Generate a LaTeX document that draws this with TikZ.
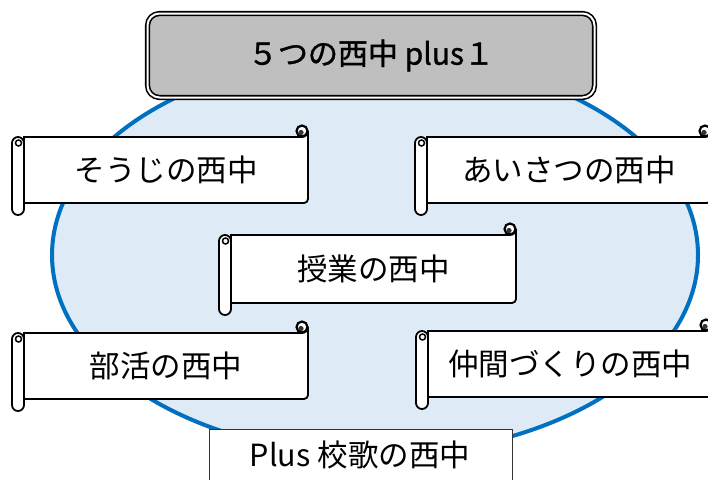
\documentclass[tikz,border=0pt]{standalone}
\usepackage{fontspec}
\newfontfamily\jpfont{Noto Sans CJK JP}
\definecolor{ovalline}{RGB}{0,112,192}
\definecolor{ovalfill}{RGB}{222,235,247}
\definecolor{titlegray}{RGB}{191,191,191}
\tikzset{
  scrollline/.style={draw=black, line width=1.8pt, fill=white},
  scrolltext/.style={font=\jpfont\fontsize{30.5}{33}\selectfont, inner sep=0pt},
}
% scroll banner: #1 name, #2 x0, #3 y0, #4 x1, #5 y1, #6 text
\newcommand\scrollbox[6]{%
  % body of the scroll with the curl at the top right
  \filldraw[scrollline] (#2+12,#3+12) -- (#4-6,#3+12)
    arc[start angle=90, end angle=0, radius=6] -- (#4,#5-16)
    arc[start angle=0, end angle=90, radius=4] -- (#2+12,#5-12) -- cycle;
  % curl at the top right
  \filldraw[scrollline, line width=2.2pt] (#4-6,#3+6) circle (5.5);
  \fill[black!80] (#4-7,#3+7.5) circle (2.6);
  % rolled part at the left
  \filldraw[scrollline, rounded corners=6] (#2,#3+12) rectangle (#2+12,#5);
  \draw[line width=1.5pt] (#2+6.5,#3+18) circle (3);
  % text
  \node[scrolltext] (#1) at ({(#2+12+#4)/2},{(#3+#5)/2}) {#6};
}
\begin{document}
\begin{tikzpicture}[x=1pt, y=-1pt]
    % picture frame
    \clip (0,0) rectangle (708,479);
    \fill[white] (0,0) rectangle (708,479);
    % the big oval behind everything
    \filldraw[draw=ovalline, fill=ovalfill, line width=4pt] (375,255) ellipse [x radius=323, y radius=200];
    % title box with double border
    \node[draw=black, double=white, double distance=2pt, line width=1.6pt,
          fill=titlegray, rounded corners=12, minimum width=447pt, minimum height=84pt,
          font=\jpfont\fontsize{30}{33}\selectfont\addfontfeature{FakeBold=1.2}] (title) at (371,55.5) {５つの西中 plus１};
    % the five scrolls
    \scrollbox{soji}{12}{125}{308}{215}{そうじの西中}
    \scrollbox{aisatsu}{415}{125}{711}{215}{あいさつの西中}
    \scrollbox{jugyo}{219}{223}{516}{315}{授業の西中}
    \scrollbox{bukatsu}{12}{321}{308}{411}{部活の西中}
    \scrollbox{nakama}{416}{319}{712}{409}{仲間づくりの西中}
    % plus box at the bottom
    \filldraw[draw=black!80, fill=white, line width=0.8pt] (209,429) rectangle (512,500);
    \node[scrolltext] (kouka) at (360,455) {Plus 校歌の西中};
\end{tikzpicture}
\end{document}
